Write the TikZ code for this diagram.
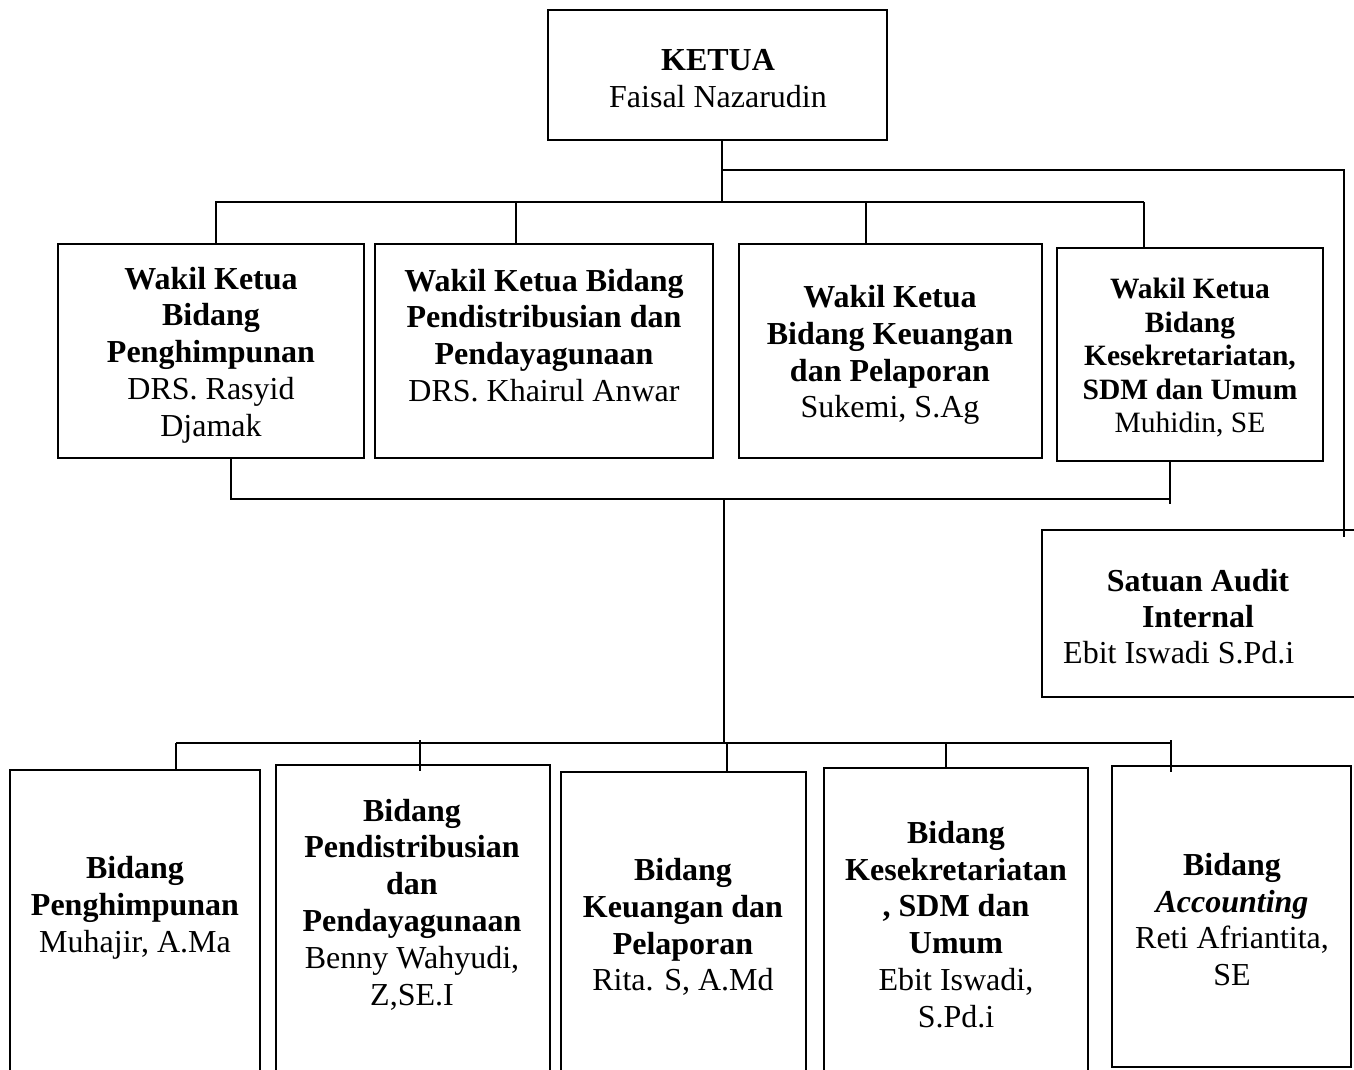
\documentclass[tikz,border=0pt]{standalone}
\usepackage{fontspec}
\setmainfont{Liberation Serif}
\usetikzlibrary{fit}
\begin{document}
\begin{tikzpicture}[x=1pt,y=-1pt,
  box/.style={draw, line width=2pt, inner sep=0pt, outer sep=0pt},
  conn/.style={line width=2pt},
  txt/.style={align=center, inner sep=0pt, font=\fontsize{32}{36.8}\selectfont},
  smalltxt/.style={align=center, inner sep=0pt, font=\fontsize{29.5}{33.5}\selectfont}]
\useasboundingbox (0,0) rectangle (1354,1070);
\clip (0,0) rectangle (1354,1070);
% boxes
\node[box, fit={(548,10) (887,140)}] (K) {};
\node[box, fit={(58,244) (364,458)}] (W1) {};
\node[box, fit={(375,244) (713,458)}] (W2) {};
\node[box, fit={(739,244) (1042,458)}] (W3) {};
\node[box, fit={(1057,248) (1323,461)}] (W4) {};
\node[box, fit={(1042,530) (1370,697)}] (SA) {};
\node[box, fit={(10,770) (260,1090)}] (B1) {};
\node[box, fit={(276,765) (550,1090)}] (B2) {};
\node[box, fit={(561,772) (806,1090)}] (B3) {};
\node[box, fit={(824,768) (1088,1090)}] (B4) {};
\node[box, fit={(1112,766) (1351,1067)}] (B5) {};
% texts
\node[txt] (tK) at (718,78.5) {\textbf{KETUA}\\Faisal Nazarudin};
\node[txt] (tW1) at (211,355) {\textbf{Wakil Ketua}\\\textbf{Bidang}\\\textbf{Penghimpunan}\\DRS. Rasyid\\Djamak};
\node[txt] (tW2) at (544,335.5) {\textbf{Wakil Ketua Bidang}\\\textbf{Pendistribusian dan}\\\textbf{Pendayagunaan}\\DRS. Khairul Anwar};
\node[txt] (tW3) at (890,355) {\textbf{Wakil Ketua}\\\textbf{Bidang Keuangan}\\\textbf{dan Pelaporan}\\Sukemi, S.Ag};
\node[smalltxt] (tW4) at (1190,358) {\textbf{Wakil Ketua}\\\textbf{Bidang}\\\textbf{Kesekretariatan,}\\\textbf{SDM dan Umum}\\Muhidin, SE};
\node[txt] (tSA) at (1198,598.5) {\textbf{Satuan Audit}\\\textbf{Internal}};
\node[txt, anchor=west] (tSA2) at (1063,653) {Ebit Iswadi S.Pd.i};
\node[txt] (tB1) at (135,907.5) {\textbf{Bidang}\\\textbf{Penghimpunan}\\Muhajir, A.Ma};
\node[txt] (tB2) at (412,904.5) {\textbf{Bidang}\\\textbf{Pendistribusian}\\\textbf{dan}\\\textbf{Pendayagunaan}\\Benny Wahyudi,\\Z,SE.I};
\node[txt] (tB3) at (683,927) {\textbf{Bidang}\\\textbf{Keuangan dan}\\\textbf{Pelaporan}\\Rita. S, A.Md};
\node[txt] (tB4) at (956,924.5) {\textbf{Bidang}\\\textbf{Kesekretariatan}\\\textbf{, SDM dan}\\\textbf{Umum}\\Ebit Iswadi,\\S.Pd.i};
\node[txt] (tB5) at (1232,919.5) {\textbf{Bidang}\\\textbf{\textit{Accounting}}\\Reti Afriantita,\\SE};
% connector points
\coordinate (jt) at (722,202);
\coordinate (ja) at (722,170);
\coordinate (jar) at (1344,170);
\coordinate (hL) at (215,202);
\coordinate (hR) at (1144,202);
\coordinate (t1) at (216,202);
\coordinate (t2) at (516,202);
\coordinate (t3) at (866,202);
\coordinate (t4) at (1144,202);
\coordinate (b1) at (231,499);
\coordinate (b4) at (1170,499);
\coordinate (m) at (724,499);
\coordinate (m2) at (724,743);
\coordinate (lL) at (176,743);
\coordinate (lR) at (1171,743);
\coordinate (u1) at (176,743);
\coordinate (u2) at (420,740);
\coordinate (u3) at (727,743);
\coordinate (u4) at (946,743);
\coordinate (u5) at (1171,740);
% connectors
\draw[conn] (K.south -| jt) -- (jt);
\draw[conn] (ja) -- (jar) -- ([yshift=-7pt]SA.north -| jar);
\draw[conn] (hL) -- (hR);
\draw[conn] (t1) -- (t1 |- W1.north);
\draw[conn] (t2) -- (t2 |- W2.north);
\draw[conn] (t3) -- (t3 |- W3.north);
\draw[conn] (t4) -- (t4 |- W4.north);
\draw[conn] (W1.south -| b1) -- (b1) -- (b4) -- ([yshift=-5pt]b4);
\draw[conn] (W4.south -| b4) -- (b4);
\draw[conn] (m) -- (m2);
\draw[conn] (lL) -- (lR);
\draw[conn] (u1) -- (u1 |- B1.north);
\draw[conn] (u2) -- ([yshift=-6pt]u2 |- B2.north);
\draw[conn] (u3) -- (u3 |- B3.north);
\draw[conn] (u4) -- (u4 |- B4.north);
\draw[conn] (u5) -- ([yshift=-6pt]u5 |- B5.north);
\end{tikzpicture}
\end{document}
